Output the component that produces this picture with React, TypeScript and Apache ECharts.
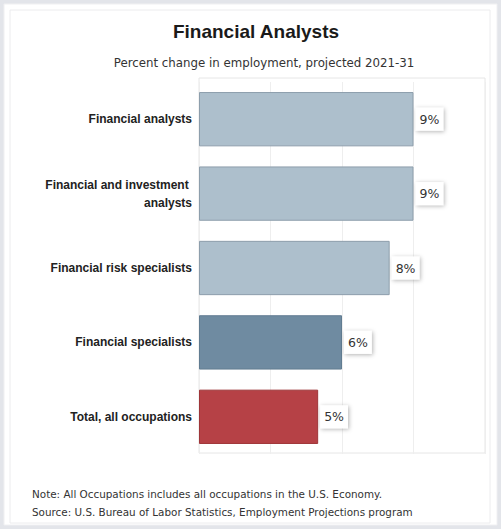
import React, { useEffect, useRef } from "react";
import * as echarts from "echarts";

const categories = [
  "Financial analysts",
  "Financial and investment analysts",
  "Financial risk specialists",
  "Financial specialists",
  "Total, all occupations",
];
const values = [9, 9, 8, 6, 5];
const xTicks = [0, 3, 6, 9, 12];

const title = "Financial Analysts";
const subtitle = "Percent change in employment, projected 2021-31";
const noteLines = [
  "Note: All Occupations includes all occupations in the U.S. Economy.",
  "Source: U.S. Bureau of Labor Statistics, Employment Projections program",
];

// style per bar (not data)
const barFill = ["#adbfcc", "#adbfcc", "#adbfcc", "#6f8ba1", "#b64146"];
const barBorder = ["#8d9eac", "#8d9eac", "#8d9eac", "#617c91", "#9e3538"];

export default function App() {
  const ref = useRef<HTMLDivElement>(null);
  useEffect(() => {
    if (!ref.current) return;
    const chart = echarts.init(ref.current, null, { renderer: "svg" });
    const sansText = "'DejaVu Sans', Verdana, sans-serif";
    chart.setOption({
      animation: false,
      backgroundColor: "#e3e5ea",
      graphic: [
        {
          type: "rect",
          shape: { x: 4, y: 4, width: 493, height: 521 },
          style: { fill: "#ffffff", stroke: "#f0f0f2", lineWidth: 1 },
          z: -10,
        },
        {
          type: "rect",
          shape: { x: 10, y: 10, width: 480, height: 513 },
          style: { fill: "none", stroke: "#ececee", lineWidth: 1 },
          z: -9,
        },
        {
          type: "rect",
          shape: { x: 199, y: 78, width: 286, height: 375 },
          style: { fill: "none", stroke: "#e6e6e6", lineWidth: 1 },
          z: -8,
        },
        {
          type: "text",
          x: 256,
          y: 31,
          style: {
            text: title,
            fontSize: 19,
            fontWeight: "bold",
            fontFamily: "'Liberation Sans', Arial, sans-serif",
            fill: "#1a1a1a",
            align: "center",
            verticalAlign: "middle",
          },
        },
        {
          type: "text",
          x: 264,
          y: 63,
          style: {
            text: subtitle,
            fontSize: 11.8,
            fontFamily: sansText,
            fill: "#333333",
            align: "center",
            verticalAlign: "middle",
          },
        },
        {
          type: "text",
          left: 32,
          top: 485,
          style: {
            text: noteLines.join("\n"),
            fontSize: 10.4,
            lineHeight: 18,
            fontFamily: sansText,
            fill: "#333333",
          },
        },
      ],
      grid: {
        left: 199,
        right: 16,
        top: 82,
        bottom: 75,
        show: false,
        containLabel: false,
      },
      xAxis: {
        type: "value",
        min: xTicks[0],
        max: xTicks[xTicks.length - 1],
        interval: 3,
        axisLabel: { show: false },
        axisLine: { show: false },
        axisTick: { show: false },
        splitLine: { show: true, lineStyle: { color: "#eeeeee", width: 1 } },
      },
      yAxis: {
        type: "category",
        data: categories,
        inverse: true,
        axisLine: { show: false },
        axisTick: { show: false },
        axisLabel: {
          margin: 7,
          fontSize: 12,
          fontWeight: "bold",
          fontFamily: "'Liberation Sans', Arial, sans-serif",
          color: "#222222",
          width: 150,
          overflow: "break",
          lineHeight: 18,
          align: "right",
        },
      },
      series: [
        {
          type: "bar",
          data: values.map((v, i) => ({
            value: v,
            itemStyle: { color: barFill[i], borderColor: barBorder[i], borderWidth: 1 },
          })),
          barCategoryGap: "27%",
          label: {
            show: true,
            position: "right",
            distance: 2,
            formatter: "{c}%",
            fontSize: 12.5,
            fontFamily: sansText,
            color: "#333333",
            backgroundColor: "#ffffff",
            padding: [6, 4, 4, 4],
            shadowBlur: 4,
            shadowColor: "rgba(0,0,0,0.3)",
            shadowOffsetX: 1,
            shadowOffsetY: 1,
          },
        },
      ],
    });
    return () => chart.dispose();
  }, []);
  return (
    <div
      ref={ref}
      style={{ position: "fixed", left: 0, top: 0, width: 501, height: 529 }}
    />
  );
}
